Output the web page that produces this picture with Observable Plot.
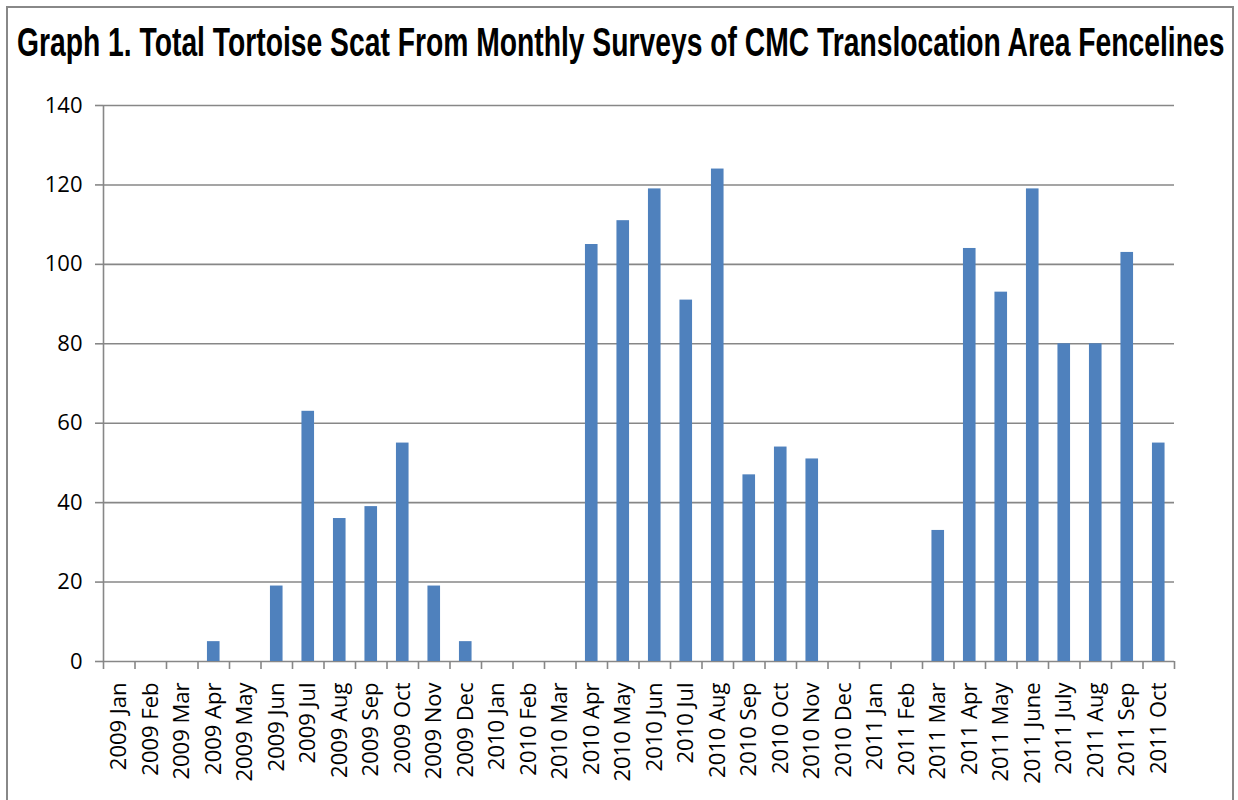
<!DOCTYPE html>
<html><head><meta charset="utf-8">
<script src="https://cdn.jsdelivr.net/npm/d3@7"></script>
<script src="https://cdn.jsdelivr.net/npm/@observablehq/plot@0.6"></script>
<style>
body{margin:0;background:#fff;}
#border{position:absolute;left:6px;top:6px;width:1228px;height:820px;border:2px solid #888;box-sizing:border-box;}
#title{position:absolute;left:0;top:0;}
#chart{position:absolute;left:0;top:0;}
</style>
</head><body>
<div id="border"></div>
<div id="chart"></div>
<svg id="title" width="1238" height="90"><g id="tg" transform="translate(17,56)"><text id="tt" x="0" y="0" font-family="'Liberation Sans Narrow', 'Arial Narrow', sans-serif" font-weight="bold" font-size="41">Graph 1. Total Tortoise Scat From Monthly Surveys of CMC Translocation Area Fencelines</text></g></svg>
<script>
const months = [
  "2009 Jan","2009 Feb","2009 Mar","2009 Apr","2009 May","2009 Jun","2009 Jul","2009 Aug","2009 Sep","2009 Oct","2009 Nov","2009 Dec",
  "2010 Jan","2010 Feb","2010 Mar","2010 Apr","2010 May","2010 Jun","2010 Jul","2010 Aug","2010 Sep","2010 Oct","2010 Nov","2010 Dec",
  "2011 Jan","2011 Feb","2011 Mar","2011 Apr","2011 May","2011 June","2011 July","2011 Aug","2011 Sep","2011 Oct"
];
const counts = [
  0,0,0,5,0,19,63,36,39,55,19,5,
  0,0,0,105,111,119,91,124,47,54,51,0,
  0,0,33,104,93,119,80,80,103,55
];
const yTicks = [0,20,40,60,80,100,120,140];

const data = months.map((m,i)=>({month:m, count:counts[i]}));
const W=1238, H=800, ml=103, mr=64, mt=105, mb=139;
const step=(W-ml-mr)/months.length;
const gray="#878787";
const font="'Open Sans', sans-serif";

const chart = Plot.plot({
  width: W, height: H,
  marginLeft: ml, marginRight: mr, marginTop: mt, marginBottom: mb,
  style: {fontFamily: font, fontSize: "22px", background: "transparent", color: "#000", overflow: "visible"},
  x: {domain: months, paddingInner: 0.6, paddingOuter: 0.3, round: false, label: null},
  y: {domain: [0,140], ticks: yTicks, label: null},
  marks: [
    Plot.gridY(yTicks, {stroke: gray, strokeOpacity: 1, strokeWidth: 1.6}),
    Plot.barY(data, {x: "month", y: "count", fill: "#4f81bd"}),
    Plot.ruleX(months, {x: d=>d, y1: 0, y2: 0, insetBottom: -8, dx: -step/2, stroke: gray, strokeWidth: 1.6}),
    Plot.ruleX([months[months.length-1]], {x: d=>d, y1: 0, y2: 0, insetBottom: -8, dx: step/2, stroke: gray, strokeWidth: 1.6}),
    Plot.ruleX([months[0]], {x: d=>d, dx: -step/2, stroke: gray, strokeWidth: 1.6}),
    Plot.axisY(yTicks, {tickSize: 8, tickPadding: 13, stroke: gray, strokeWidth: 1.6, fontSize: 22, tickFormat: d=>String(d), label: null}),
    Plot.axisX({tickRotate: -90, tickSize: 0, tickPadding: 21, fontSize: 22, label: null})
  ]
});
document.getElementById("chart").appendChild(chart);

// fit the title horizontally to the reference's span
const tt = document.getElementById("tt");
const natural = tt.getComputedTextLength();
const sx = 1208 / natural;
document.getElementById("tg").setAttribute("transform", `translate(17,56) scale(${sx},1)`);
</script>
</body></html>
